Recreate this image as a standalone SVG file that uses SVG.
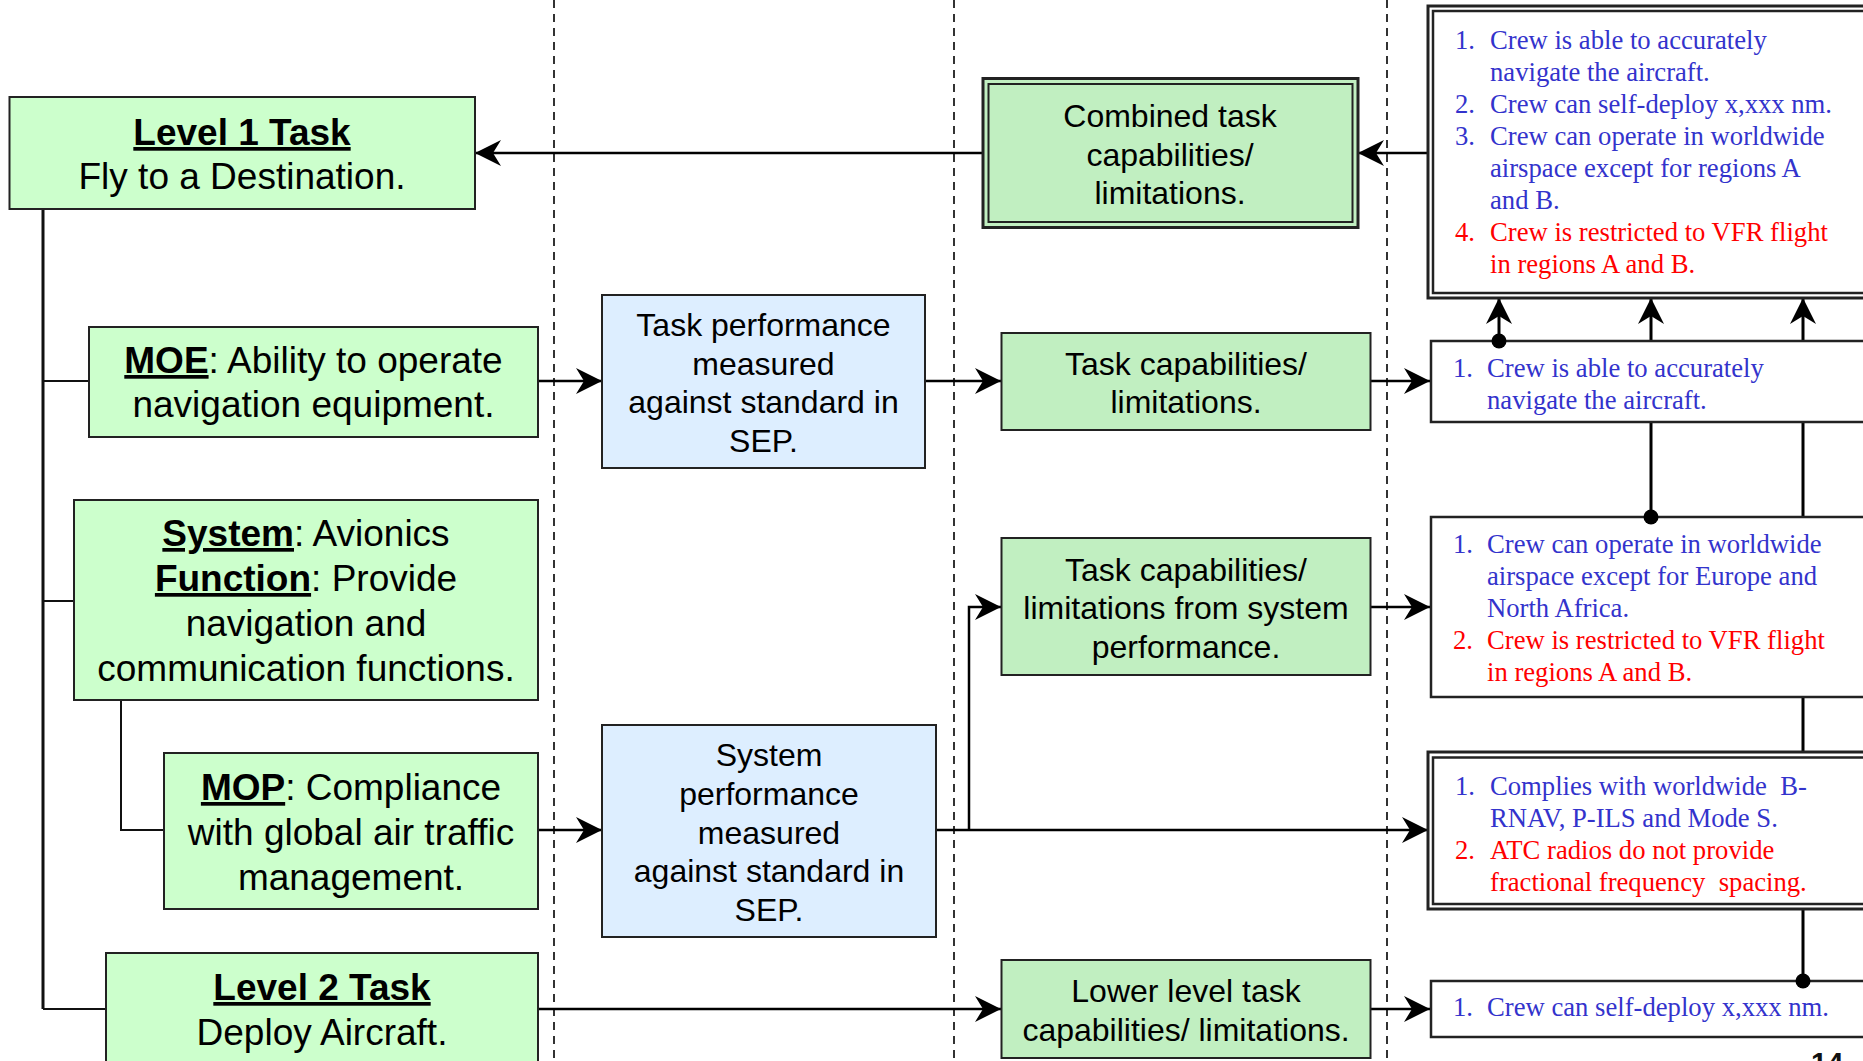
<svg xmlns="http://www.w3.org/2000/svg" width="1863" height="1061" viewBox="0 0 1863 1061">
  <style>
    .lane { stroke: #000; stroke-width: 1.6; stroke-dasharray: 8 6; fill: none; }
    .req { fill: #ccffcc; stroke: #222; stroke-width: 2; }
    .eval { fill: #ddeeff; stroke: #222; stroke-width: 2; }
    .cap { fill: #c1efc1; stroke: #222; stroke-width: 2; }
    .res { fill: #fff; stroke: #222; stroke-width: 2.5; }
    .outer { stroke-width: 3; }
    .big { font-family: "Liberation Sans", Arial, sans-serif; font-size: 37px; fill: #000; text-anchor: middle; }
    .mid { font-family: "Liberation Sans", Arial, sans-serif; font-size: 32px; fill: #000; text-anchor: middle; }
    .b { font-weight: bold; text-decoration: underline; }
    .list { font-family: "Liberation Serif", "Times New Roman", serif; font-size: 26.67px; white-space: pre; }
    .blue { fill: #3333cc; }
    .red { fill: #ff0000; }
    .tree { stroke: #111; stroke-width: 2; fill: none; }
    .flow { stroke: #000; stroke-width: 2.5; fill: none; marker-end: url(#stealth); }
    .up { stroke: #000; stroke-width: 3; fill: none; marker-end: url(#stealth); }
  </style>
  <defs>
    <marker id="stealth" markerUnits="userSpaceOnUse" viewBox="-28 -15 30 30" refX="0" refY="0" markerWidth="30" markerHeight="30" orient="auto">
      <path d="M0,0 L-26,-13 L-18,0 L-26,13 Z" fill="#000"/>
    </marker>
  </defs>

  <rect width="1863" height="1061" fill="#fff"/>

  <!-- swim-lane separators -->
  <g id="lanes">
    <line class="lane" x1="554" y1="0" x2="554" y2="1061"/>
    <line class="lane" x1="954" y1="0" x2="954" y2="1061"/>
    <line class="lane" x1="1387" y1="0" x2="1387" y2="1061"/>
  </g>

  <!-- connectors -->
  <g id="connectors">
    <!-- decomposition tree -->
    <line class="tree" x1="43" y1="209" x2="43" y2="1009" style="stroke-width:3"/>
    <line class="tree" x1="43" y1="381" x2="89" y2="381"/>
    <line class="tree" x1="43" y1="601" x2="74" y2="601"/>
    <line class="tree" x1="43" y1="1009" x2="106" y2="1009"/>
    <polyline class="tree" points="121,700 121,830 164,830"/>

    <!-- evaluation flow -->
    <line class="flow" x1="538" y1="381" x2="602" y2="381"/>
    <line class="flow" x1="925" y1="381" x2="1001" y2="381"/>
    <line class="flow" x1="538" y1="830" x2="602" y2="830"/>
    <line class="flow" x1="936" y1="830" x2="1428" y2="830"/>
    <polyline class="flow" points="969,830 969,607 1001,607"/>
    <line class="flow" x1="538" y1="1009" x2="1001" y2="1009"/>
    <line class="flow" x1="983" y1="153" x2="475" y2="153"/>
    <line class="flow" x1="1428" y1="153" x2="1358" y2="153"/>
    <line class="flow" x1="1370" y1="381" x2="1430" y2="381"/>
    <line class="flow" x1="1370" y1="607" x2="1430" y2="607"/>
    <line class="flow" x1="1370" y1="1009" x2="1430" y2="1009"/>

    <!-- roll-up into the combined list -->
    <line class="up" x1="1499" y1="341" x2="1499" y2="298"/>
    <line class="up" x1="1651" y1="517" x2="1651" y2="298"/>
    <line class="up" x1="1803" y1="981" x2="1803" y2="298"/>
  </g>

  <!-- left column: task / measure / system -->
  <g id="level1-task">
    <rect class="req" x="9.5" y="97" width="465.5" height="112"/>
    <text class="big" x="242" y="145"><tspan class="b">Level 1 Task</tspan></text>
    <text class="big" x="242" y="189">Fly to a Destination.</text>
  </g>
  <g id="moe">
    <rect class="req" x="89" y="327" width="449" height="110"/>
    <text class="big" x="313.5" y="373"><tspan class="b">MOE</tspan>: Ability to operate</text>
    <text class="big" x="313.5" y="417">navigation equipment.</text>
  </g>
  <g id="system">
    <rect class="req" x="74" y="500" width="464" height="200"/>
    <text class="big" x="306" y="546"><tspan class="b">System</tspan>: Avionics</text>
    <text class="big" x="306" y="591"><tspan class="b">Function</tspan>: Provide</text>
    <text class="big" x="306" y="636">navigation and</text>
    <text class="big" x="306" y="681">communication functions.</text>
  </g>
  <g id="mop">
    <rect class="req" x="164" y="753" width="374" height="156"/>
    <text class="big" x="351" y="800"><tspan class="b">MOP</tspan>: Compliance</text>
    <text class="big" x="351" y="845">with global air traffic</text>
    <text class="big" x="351" y="890">management.</text>
  </g>
  <g id="level2-task">
    <rect class="req" x="106" y="953" width="432" height="130"/>
    <text class="big" x="322" y="1000"><tspan class="b">Level 2 Task</tspan></text>
    <text class="big" x="322" y="1045">Deploy Aircraft.</text>
  </g>

  <!-- middle column: evaluation against the SEP -->
  <g id="task-performance">
    <rect class="eval" x="602" y="295" width="323" height="173"/>
    <text class="mid" x="763.5" y="336">Task performance</text>
    <text class="mid" x="763.5" y="374.5">measured</text>
    <text class="mid" x="763.5" y="413">against standard in</text>
    <text class="mid" x="763.5" y="451.5">SEP.</text>
  </g>
  <g id="system-performance">
    <rect class="eval" x="602" y="725" width="334" height="212"/>
    <text class="mid" x="769" y="766">System</text>
    <text class="mid" x="769" y="805">performance</text>
    <text class="mid" x="769" y="843.5">measured</text>
    <text class="mid" x="769" y="882">against standard in</text>
    <text class="mid" x="769" y="921">SEP.</text>
  </g>

  <!-- capability boxes -->
  <g id="combined-capabilities">
    <rect class="cap outer" x="983" y="78.5" width="375" height="149"/>
    <rect class="cap" x="988.5" y="84" width="364" height="138"/>
    <text class="mid" x="1170" y="127">Combined task</text>
    <text class="mid" x="1170" y="165.5">capabilities/</text>
    <text class="mid" x="1170" y="204">limitations.</text>
  </g>
  <g id="task-capabilities">
    <rect class="cap" x="1001.5" y="333" width="369" height="97"/>
    <text class="mid" x="1186" y="374.5">Task capabilities/</text>
    <text class="mid" x="1186" y="412.5">limitations.</text>
  </g>
  <g id="system-capabilities">
    <rect class="cap" x="1001.5" y="538" width="369" height="137"/>
    <text class="mid" x="1186" y="580.5">Task capabilities/</text>
    <text class="mid" x="1186" y="619">limitations from system</text>
    <text class="mid" x="1186" y="657.5">performance.</text>
  </g>
  <g id="lower-capabilities">
    <rect class="cap" x="1001.5" y="960" width="369" height="98"/>
    <text class="mid" x="1186" y="1002">Lower level task</text>
    <text class="mid" x="1186" y="1041">capabilities/ limitations.</text>
  </g>

  <!-- right column: resulting statements -->
  <g id="combined-list">
    <rect class="res outer" x="1428" y="6" width="460" height="292"/>
    <rect class="res" x="1433" y="11" width="450" height="282"/>
    <g class="list blue">
      <text x="1455" y="48.5">1.</text><text x="1490" y="48.5">Crew is able to accurately</text>
      <text x="1490" y="80.5">navigate the aircraft.</text>
      <text x="1455" y="112.5">2.</text><text x="1490" y="112.5">Crew can self-deploy x,xxx nm.</text>
      <text x="1455" y="144.5">3.</text><text x="1490" y="144.5">Crew can operate in worldwide</text>
      <text x="1490" y="176.5">airspace except for regions A</text>
      <text x="1490" y="208.5">and B.</text>
    </g>
    <g class="list red">
      <text x="1455" y="240.5">4.</text><text x="1490" y="240.5">Crew is restricted to VFR flight</text>
      <text x="1490" y="272.5">in regions A and B.</text>
    </g>
  </g>
  <g id="navigation-result">
    <rect class="res" x="1431" y="341" width="460" height="81"/>
    <g class="list blue">
      <text x="1453" y="377">1.</text><text x="1487" y="377">Crew is able to accurately</text>
      <text x="1487" y="409">navigate the aircraft.</text>
    </g>
  </g>
  <g id="airspace-result">
    <rect class="res" x="1431" y="517" width="460" height="180"/>
    <g class="list blue">
      <text x="1453" y="553">1.</text><text x="1487" y="553">Crew can operate in worldwide</text>
      <text x="1487" y="585">airspace except for Europe and</text>
      <text x="1487" y="617">North Africa.</text>
    </g>
    <g class="list red">
      <text x="1453" y="649">2.</text><text x="1487" y="649">Crew is restricted to VFR flight</text>
      <text x="1487" y="681">in regions A and B.</text>
    </g>
  </g>
  <g id="compliance-result">
    <rect class="res outer" x="1428" y="752" width="460" height="157"/>
    <rect class="res" x="1433" y="757.5" width="450" height="146.5"/>
    <g class="list blue">
      <text x="1455" y="794.5">1.</text><text x="1490" y="794.5" xml:space="preserve">Complies with worldwide  B-</text>
      <text x="1490" y="826.5">RNAV, P-ILS and Mode S.</text>
    </g>
    <g class="list red">
      <text x="1455" y="858.5">2.</text><text x="1490" y="858.5">ATC radios do not provide</text>
      <text x="1490" y="890.5" xml:space="preserve">fractional frequency  spacing.</text>
    </g>
  </g>
  <g id="deploy-result">
    <rect class="res" x="1431" y="981" width="460" height="56"/>
    <g class="list blue">
      <text x="1453" y="1016">1.</text><text x="1487" y="1016">Crew can self-deploy x,xxx nm.</text>
    </g>
  </g>

  <!-- junction dots -->
  <g id="junctions" fill="#000">
    <circle cx="1499" cy="341" r="7.5"/>
    <circle cx="1651" cy="517" r="7.5"/>
    <circle cx="1803" cy="981" r="7.5"/>
  </g>

  <text x="1811" y="1073" font-family="Liberation Sans, Arial, sans-serif" font-size="29" font-weight="bold" fill="#111">14</text>
</svg>
